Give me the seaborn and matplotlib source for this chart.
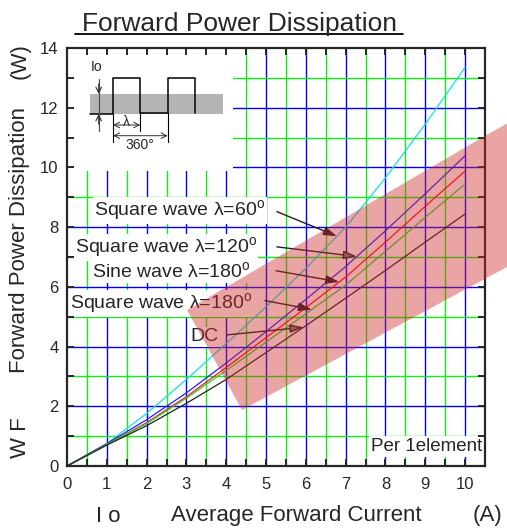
import numpy as np
import pandas as pd
import matplotlib
matplotlib.use("Agg")
import matplotlib.pyplot as plt
import seaborn as sns
from matplotlib.ticker import MultipleLocator
from matplotlib.patches import Rectangle, Polygon

# Readings from the curves (W) at each ampere of average forward current
io = [0, 1, 2, 3, 4, 5, 6, 7, 8, 9, 10]
sq60 = [0, 0.75, 1.76, 2.9, 4.1, 5.33, 6.62, 8.0, 9.65, 11.45, 13.35]
sq120 = [0, 0.75, 1.55, 2.45, 3.45, 4.5, 5.58, 6.68, 7.88, 9.12, 10.39]
sine180 = [0, 0.72, 1.45, 2.32, 3.3, 4.3, 5.3, 6.33, 7.5, 8.7, 9.88]
sq180 = [0, 0.72, 1.42, 2.27, 3.2, 4.15, 5.1, 6.06, 7.19, 8.33, 9.44]
dc = [0, 0.7, 1.35, 2.1, 2.9, 3.8, 4.7, 5.62, 6.55, 7.5, 8.44]

curve_names = ["Square wave λ=60", "Square wave λ=120", "Sine wave λ=180",
               "Square wave λ=180", "DC"]
curve_colors = ["#10e0f0", "#2020ff", "#ff1010", "#30d030", "#202020"]
# where each label's arrow meets its curve (A)
arrow_x = [6.78, 7.28, 6.84, 6.15, 5.94]

x_ticks = list(range(0, 11))
y_ticks = list(range(0, 15, 2))

sns.set_style("ticks")
plt.rcParams['font.family'] = ['Liberation Sans', 'DejaVu Sans']
plt.rcParams['mathtext.fontset'] = 'custom'
plt.rcParams['mathtext.rm'] = 'Liberation Sans'

# long-form table for seaborn
series = [sq60, sq120, sine180, sq180, dc]
df = pd.DataFrame({
    "Io": np.tile(io, len(series)),
    "P": np.concatenate(series),
    "curve": np.repeat(curve_names, len(io)),
})

W, H = 507, 528
fig = plt.figure(figsize=(W / 100, H / 100), dpi=100)
ax = fig.add_axes([67 / W, 1 - 466 / H, 418 / W, 418 / H])
ax.set_xlim(0, 10.5)
ax.set_ylim(0, 14)

# coloured grid: blue on the majors, green on the halves
ax.vlines(np.arange(1, 11), 0, 14, colors="#0000ff", lw=1.0, zorder=0.6)
ax.vlines(np.arange(0.5, 10.5, 1), 0, 14, colors="#10f010", lw=1.0, zorder=0.6)
ax.hlines(np.arange(2, 14, 2), 0, 10.5, colors="#0000ff", lw=1.0, zorder=0.6)
ax.hlines(np.arange(1, 14, 2), 0, 10.5, colors="#10f010", lw=1.0, zorder=0.6)

# white area behind the waveform sketch
ax.add_patch(Rectangle((0, 9.88), 4.17, 4.12, fc="white", ec="none", zorder=0.8))

sns.lineplot(data=df, x="Io", y="P", hue="curve", hue_order=curve_names,
             palette=curve_colors, legend=False, lw=0.9, ax=ax, zorder=2)

ax.xaxis.set_major_locator(MultipleLocator(1))
ax.xaxis.set_minor_locator(MultipleLocator(0.5))
ax.yaxis.set_major_locator(MultipleLocator(2))
ax.yaxis.set_minor_locator(MultipleLocator(1))
ax.set_xticks(x_ticks)
ax.set_yticks(y_ticks)
ax.tick_params(which="both", direction="in", top=True, right=True,
               length=5, width=1.4, labelsize=12)
ax.tick_params(axis="x", pad=8)
ax.tick_params(axis="y", pad=6)
for s in ax.spines.values():
    s.set_linewidth(1.6)
ax.set_xlabel("")
ax.set_ylabel("")
ax.set_axisbelow(False)

# curve labels with arrows
label_pos = [(0.68, 8.56), (0.20, 7.32), (0.64, 6.51), (0.08, 5.45), (3.1, 4.33)]
tail_pos = [(5.27, 8.52), (5.27, 7.34), (5.25, 6.54), (4.97, 5.54), (4.01, 4.39)]
arrow_fc = ["#202020", "#777777", "#202020", "#202020", "#777777"]
for name, ys, xa, (tx, ty), tail, fc in zip(curve_names, series, arrow_x,
                                           label_pos, tail_pos, arrow_fc):
    ax.text(tx, ty, name + r"$^\mathrm{o}$" if name != "DC" else name,
            fontsize=14, ha="left", va="center", zorder=1.5,
            bbox=dict(fc="white", ec="none", pad=1.0))
    ax.annotate("", xy=(xa, np.interp(xa, io, ys)), xytext=tail, zorder=2.2,
                arrowprops=dict(arrowstyle="-|>,head_length=0.8,head_width=0.25",
                                ec="#202020", fc=fc, lw=1.0, shrinkA=0, shrinkB=0))

ax.text(10.42, 0.65, "Per 1element", fontsize=13.5, ha="right", va="center",
        zorder=1.5, bbox=dict(fc="white", ec="none", pad=1.5))

# pixel overlay for titles, the waveform sketch and the watermark band
ov = fig.add_axes([0, 0, 1, 1], zorder=5)
ov.set_xlim(0, W)
ov.set_ylim(H, 0)
ov.axis("off")
ov.patch.set_alpha(0)

ov.text(239, 31, "Forward Power Dissipation", fontsize=19, ha="center", va="baseline")
ov.plot([75, 403], [34, 34], color="black", lw=1.3)

ov.text(20, 61, "(W)", fontsize=16, rotation=90, ha="center", va="center")
ov.text(20, 240, "Forward Power Dissipation", fontsize=16, rotation=90,
        ha="center", va="center")
ov.text(20, 438, "W F", fontsize=16, rotation=90, ha="center", va="center")
ov.text(108, 516, "I o", fontsize=16, ha="center", va="center")
ov.text(296, 516, "Average Forward Current", fontsize=16, ha="center", va="center")
ov.text(487, 516, "(A)", fontsize=16, ha="center", va="center")

# waveform sketch
ov.add_patch(Rectangle((89.7, 94), 133.3, 20, fc="#b4b4b4", ec="none"))
ov.plot([89.7, 113, 113, 140.3, 140.3, 167.7, 167.7, 195.3, 195.3],
        [114, 114, 78.3, 78.3, 113.3, 113.3, 78.3, 78.3, 113.3],
        color="black", lw=1.1)
ov.plot([98.7, 98.7], [79, 131.3], color="#505050", lw=0.9)
ov.annotate("", xy=(98.7, 94), xytext=(98.7, 84),
            arrowprops=dict(arrowstyle="->", color="#303030", lw=0.8,
                            shrinkA=0, shrinkB=0))
ov.annotate("", xy=(98.7, 114), xytext=(98.7, 124),
            arrowprops=dict(arrowstyle="->", color="#303030", lw=0.8,
                            shrinkA=0, shrinkB=0))
ov.plot([113, 113], [114, 142.3], color="black", lw=0.8)
ov.plot([140.3, 140.3], [113.3, 131.3], color="black", lw=0.8)
ov.plot([167.7, 167.7], [113.3, 142.3], color="black", lw=0.8)
for x0, x1, yy in [(113, 140.3, 125), (113, 167.7, 135.7)]:
    ov.annotate("", xy=(x1, yy), xytext=(x0, yy),
                arrowprops=dict(arrowstyle="<->", color="#303030", lw=0.7,
                                shrinkA=0, shrinkB=0))
ov.text(96.3, 67.3, "Io", fontsize=10, ha="center", va="center")
ov.text(126.3, 121.5, "λ", fontsize=10, ha="center", va="center", color="#303030")
ov.text(140.3, 145, "360°", fontsize=10, ha="center", va="center")

# faded logo band laid over the plot
ov.add_patch(Polygon([(187, 310), (490, 133), (507, 123.5), (507, 267), (242, 410)],
                     closed=True, fc="#d02828", ec="none", alpha=0.42))

fig.savefig("out.png", dpi=100)
